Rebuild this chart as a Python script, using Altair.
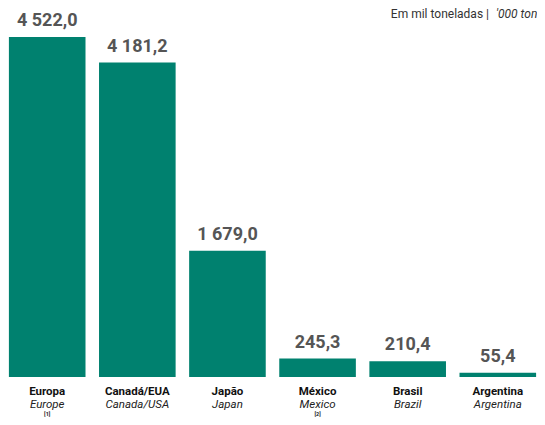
import altair as alt
import pandas as pd

categories_pt = ["Europa", "Canadá/EUA", "Japão", "México", "Brasil", "Argentina"]
categories_en = ["Europe", "Canada/USA", "Japan", "Mexico", "Brazil", "Argentina"]
footnotes = ["[1]", "", "", "[2]", "", ""]
values = [4522.0, 4181.2, 1679.0, 245.3, 210.4, 55.4]
value_labels = ["4 522,0", "4 181,2", "1 679,0", "245,3", "210,4", "55,4"]
unit_pt = "Em mil toneladas |"
unit_en = "'000 ton"

df = pd.DataFrame({
    "cat": categories_pt,
    "en": categories_en,
    "fn": footnotes,
    "value": values,
    "label": value_labels,
})

BAR = "#00816F"
FONT = "Roboto"

x = alt.X("cat:N", sort=None, axis=None,
          scale=alt.Scale(paddingInner=0.15, paddingOuter=0.01))
y = alt.Y("value:Q", axis=None, scale=alt.Scale(domain=[0, 4880], nice=False))

base = alt.Chart(df)

bars = base.mark_bar(color=BAR).encode(x=x, y=y)

vals = base.mark_text(baseline="bottom", dy=-7, fontSize=18, fontWeight="bold",
                      color="#555555", font=FONT).encode(x=x, y=y, text="label:N")

pt = base.mark_text(baseline="middle", fontSize=11.5, fontWeight="bold",
                    color="#111111", font=FONT).encode(x=x, y=alt.value(382), text="cat:N")

en = base.mark_text(baseline="middle", fontSize=11.5, fontStyle="italic",
                    color="#222222", font=FONT).encode(x=x, y=alt.value(394.5), text="en:N")

fn = base.mark_text(baseline="middle", fontSize=5.5, fontWeight="bold",
                    color="#222222", font=FONT).encode(x=x, y=alt.value(404), text="fn:N")

t1 = alt.Chart(pd.DataFrame({"t": [unit_pt]})).mark_text(
    align="right", baseline="top", fontSize=12, color="#333333", font=FONT
).encode(x=alt.value(481), y=alt.value(-1), text="t:N")

t2 = alt.Chart(pd.DataFrame({"t": [unit_en]})).mark_text(
    align="left", baseline="top", fontSize=12, fontStyle="italic", color="#333333", font=FONT
).encode(x=alt.value(488), y=alt.value(-1), text="t:N")

chart = alt.layer(bars, vals, pt, en, fn, t1, t2).properties(
    width=529, height=367,
    autosize=alt.AutoSizeParams(type="none"),
    padding={"left": 0, "right": 0, "top": 2, "bottom": 40},
).configure_view(stroke=None)

chart.save("out.html", embed_options={"renderer": "svg", "actions": False})
